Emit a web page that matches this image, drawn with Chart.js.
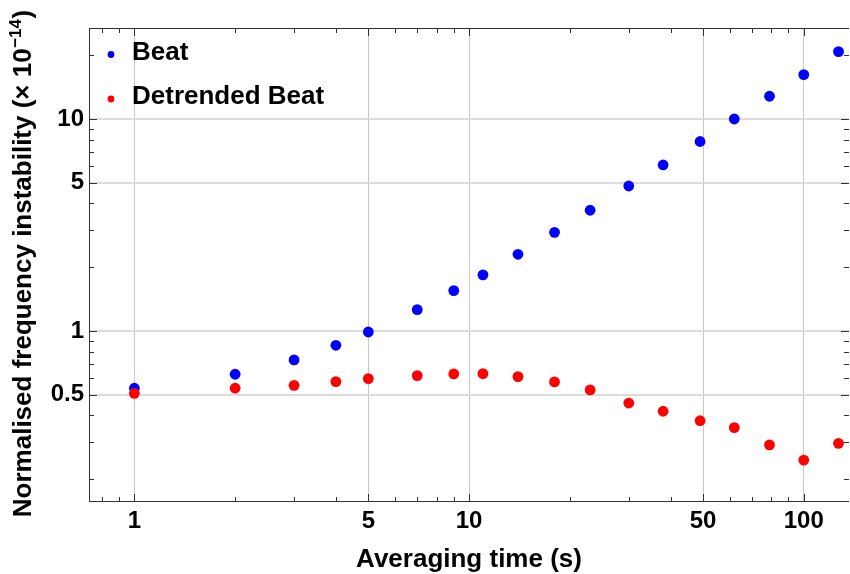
<!DOCTYPE html>
<html>
<head>
<meta charset="utf-8">
<script src="https://cdn.jsdelivr.net/npm/chart.js@4/dist/chart.umd.min.js"></script>
<style>
  html, body { margin: 0; padding: 0; background: #fff; }
  #wrap { width: 850px; height: 574px; }
</style>
</head>
<body>
<div id="wrap"><canvas id="c" width="850" height="574"></canvas></div>
<script>
// Averaging times (s)
const tau = [1, 2, 3, 4, 5, 7, 9, 11, 14, 18, 23, 30, 38, 49, 62, 79, 100, 127];
// Normalised frequency instability, units of 1e-14
const beat = [0.537, 0.625, 0.730, 0.856, 0.989, 1.26, 1.55, 1.84, 2.30, 2.92, 3.71, 4.83, 6.07, 7.83, 10.0, 12.8, 16.2, 20.8];
const detrended = [0.508, 0.537, 0.554, 0.577, 0.596, 0.616, 0.627, 0.629, 0.609, 0.575, 0.527, 0.457, 0.418, 0.377, 0.350, 0.290, 0.246, 0.295];
const seriesNames = ['Beat', 'Detrended Beat'];
const seriesColors = ['#0000ff', '#ff0000'];

// Tick values: labelled ticks carry a grid line, minor ones only a short mark
const xLabelTicks = [1, 5, 10, 50, 100];
const xMinorTicks = [0.8, 0.9, 2, 3, 4, 6, 7, 8, 9, 20, 30, 40, 60, 70, 80, 90];
const yLabelTicks = [0.5, 1, 5, 10];
const yMinorTicks = [0.2, 0.3, 0.4, 0.6, 0.7, 0.8, 0.9, 2, 3, 4, 6, 7, 8, 9, 20];

// Axis titles (the y title carries a power-of-ten superscript)
const xTitle = 'Averaging time (s)';
const yTitleMain = 'Normalised frequency instability (× 10';
const yTitleSup = '−14';
const yTitleEnd = ')';

const FONT = "'Liberation Sans', Arial, Helvetica, sans-serif";
Chart.defaults.font.family = FONT;
Chart.defaults.font.weight = 'bold';
Chart.defaults.color = '#000';

function tickList(major, minor) {
  return major.concat(minor).sort((a, b) => a - b).map(v => ({ value: v }));
}

// Frame with inward tick marks on all four sides
const framePlugin = {
  id: 'frame',
  beforeDatasetsDraw(chart) {
    const { ctx, chartArea: a, scales: { x, y } } = chart;
    ctx.save();
    ctx.strokeStyle = '#333';
    ctx.lineWidth = 1;
    ctx.beginPath();
    ctx.moveTo(a.left + 0.5, a.top);
    ctx.lineTo(a.left + 0.5, a.bottom);
    ctx.moveTo(a.left, a.bottom - 0.5);
    ctx.lineTo(a.right, a.bottom - 0.5);
    ctx.moveTo(a.left, a.top + 0.5);
    ctx.lineTo(a.right, a.top + 0.5);
    x.ticks.forEach(t => {
      const px = Math.round(x.getPixelForValue(t.value)) + 0.5;
      const len = xLabelTicks.includes(t.value) ? 8 : 5;
      ctx.moveTo(px, a.bottom);
      ctx.lineTo(px, a.bottom - len);
      ctx.moveTo(px, a.top);
      ctx.lineTo(px, a.top + len);
    });
    y.ticks.forEach(t => {
      const py = Math.round(y.getPixelForValue(t.value)) + 0.5;
      const len = yLabelTicks.includes(t.value) ? 8 : 5;
      ctx.moveTo(a.left, py);
      ctx.lineTo(a.left + len, py);
      ctx.moveTo(a.right, py);
      ctx.lineTo(a.right - len, py);
    });
    ctx.stroke();
    ctx.restore();
  }
};

// Legend in the upper-left corner of the plot, and the rotated y title
const labelPlugin = {
  id: 'labels',
  afterDraw(chart) {
    const { ctx, chartArea: a } = chart;
    ctx.save();
    chart.data.datasets.forEach((ds, i) => {
      const cy = a.top + 26.5 + 44.5 * i;
      ctx.fillStyle = ds.backgroundColor;
      ctx.beginPath();
      ctx.arc(a.left + 22, cy, 3.4, 0, Math.PI * 2);
      ctx.fill();
      ctx.fillStyle = '#000';
      ctx.font = 'bold 26px ' + FONT;
      ctx.textBaseline = 'alphabetic';
      ctx.textAlign = 'left';
      ctx.fillText(ds.label, a.left + 43, cy + 5);
    });

    const mainFont = 'bold 26px ' + FONT;
    const supFont = 'bold 17px ' + FONT;
    ctx.font = mainFont;
    const w1 = ctx.measureText(yTitleMain).width;
    const w3 = ctx.measureText(yTitleEnd).width;
    ctx.font = supFont;
    const w2 = ctx.measureText(yTitleSup).width + 1;
    const total = w1 + w2 + w3;
    const cy = (a.top + a.bottom) / 2 - 1.5;
    ctx.translate(31, cy);
    ctx.rotate(-Math.PI / 2);
    ctx.fillStyle = '#000';
    ctx.textAlign = 'left';
    ctx.textBaseline = 'alphabetic';
    let px = -total / 2;
    ctx.font = mainFont;
    ctx.fillText(yTitleMain, px, 0);
    px += w1;
    ctx.font = supFont;
    ctx.fillText(yTitleSup, px + 0.5, -10);
    px += w2;
    ctx.font = mainFont;
    ctx.fillText(yTitleEnd, px, 0);
    ctx.restore();
  }
};

const datasets = [beat, detrended].map((vals, i) => ({
  label: seriesNames[i],
  data: tau.map((t, k) => ({ x: t, y: vals[k] })),
  backgroundColor: seriesColors[i],
  borderColor: seriesColors[i],
  borderWidth: 0,
  pointRadius: 5.4,
  showLine: false,
  order: 1 - i
}));

new Chart(document.getElementById('c'), {
  type: 'scatter',
  data: { datasets },
  options: {
    responsive: false,
    animation: false,
    layout: { autoPadding: false, padding: { top: 28, right: 1, left: 0, bottom: 0 } },
    plugins: { legend: { display: false }, tooltip: { enabled: false } },
    scales: {
      x: {
        type: 'logarithmic',
        min: 0.7318,
        max: 136.5,
        bounds: 'data',
        afterBuildTicks: s => { s.ticks = tickList(xLabelTicks, xMinorTicks); },
        afterFit: s => { s.height = 72; s.paddingLeft = 0; s.paddingRight = 0; },
        grid: {
          drawTicks: false,
          lineWidth: 1,
          color: c => (c.tick && xLabelTicks.includes(c.tick.value)) ? '#c8c8c8' : 'rgba(0,0,0,0)'
        },
        border: { display: false },
        ticks: {
          autoSkip: false, maxRotation: 0, minRotation: 0, padding: 5,
          color: '#000', font: { size: 24, weight: 'bold' },
          callback: v => xLabelTicks.includes(v) ? String(v) : ''
        },
        title: {
          display: true, text: xTitle, color: '#000',
          font: { size: 26, weight: 'bold', lineHeight: 1 },
          padding: { top: 0, bottom: 1 }
        }
      },
      y: {
        type: 'logarithmic',
        min: 0.156,
        max: 26.87,
        bounds: 'data',
        afterBuildTicks: s => { s.ticks = tickList(yLabelTicks, yMinorTicks); },
        afterFit: s => { s.width = 89; s.paddingTop = 0; s.paddingBottom = 0; },
        grid: {
          drawTicks: false,
          lineWidth: 2,
          color: c => (c.tick && yLabelTicks.includes(c.tick.value)) ? '#dcdcdc' : 'rgba(0,0,0,0)'
        },
        border: { display: false },
        ticks: {
          autoSkip: false, padding: 5,
          color: '#000', font: { size: 24, weight: 'bold' },
          callback: v => yLabelTicks.includes(v) ? String(v) : ''
        }
      }
    }
  },
  plugins: [framePlugin, labelPlugin]
});
</script>
</body>
</html>
